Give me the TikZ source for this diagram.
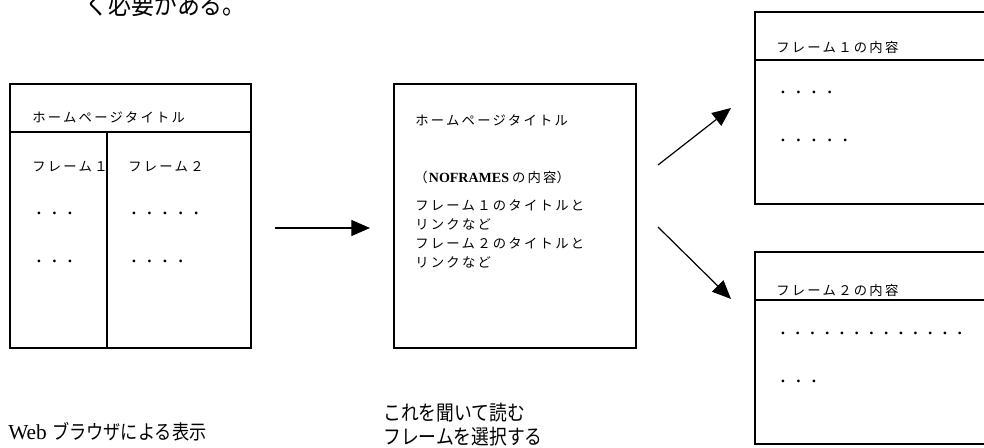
\documentclass[tikz,border=0pt]{standalone}
\usepackage{fontspec}
\setmainfont{Liberation Serif}
\newfontfamily\cjk{Noto Sans CJK JP}
\newfontfamily\cjks[LetterSpace=17]{Noto Sans CJK JP}
\newfontfamily\cjkd[LetterSpace=10.6]{Noto Sans CJK JP}
\newfontfamily\cjkn[FakeStretch=0.86]{Noto Sans CJK JP}
\usetikzlibrary{arrows.meta,fit}
\begin{document}
\begin{tikzpicture}[x=0.75pt,y=-0.75pt,
  box/.style={draw, line width=1pt, inner sep=0pt},
  sepline/.style={line width=1pt},
  lbl/.style={anchor=west, inner sep=0pt, font=\cjks\fontsize{10}{12}\selectfont},
  big/.style={anchor=west, inner sep=0pt, font=\fontsize{16}{18}\selectfont},
  arr/.style={line width=0.9pt, -{Triangle[length=14pt,width=12pt]}}]
\clip (0,0) rectangle (984,448);
% top cut-off text
\node[anchor=west, inner sep=0pt, font=\cjkn\fontsize{20}{22}\selectfont] (top) at (85,4) {く必要がある。};
% box 1
\node[box, fit={(10,84) (251,348)}] (b1) {};
\draw[sepline] (10,132) -- (251,132);
\draw[sepline] (107,132) -- (107,348);
\node[lbl] (b1t) at (32,117) {ホームページタイトル};
\node[lbl] (b1f1) at (32,167) {フレーム１};
\node[lbl] (b1f2) at (128,167) {フレーム２};
\node[lbl] (b1d1) at (32,215) {・・・};
\node[lbl] (b1d2) at (32,263) {・・・};
\node[lbl] (b1d3) at (127,215) {・・・・・};
\node[lbl] (b1d4) at (127,263) {・・・・};
% box 2
\node[box, fit={(394,84) (636,348)}] (b2) {};
\node[lbl] (b2t) at (415,120) {ホームページタイトル};
\node[lbl, font=\cjk\fontsize{10}{12}\selectfont] (b2n) at (414,177) {（\hspace{1pt}{\fontspec{Liberation Serif}\fontsize{10.5}{12}\selectfont\bfseries NOFRAMES} {\cjks の内容}）};
\node[lbl] (b2l1) at (415,205) {フレーム１のタイトルと};
\node[lbl] (b2l2) at (415,224) {リンクなど};
\node[lbl] (b2l3) at (415,243) {フレーム２のタイトルと};
\node[lbl] (b2l4) at (415,262) {リンクなど};
% box 3
\node[box, fit={(755,12) (995,204)}] (b3) {};
\draw[sepline] (755,60) -- (995,60);
\node[lbl] (b3t) at (776,47) {フレーム１の内容};
\node[lbl] (b3d1) at (776,94) {・・・・};
\node[lbl] (b3d2) at (776,142) {・・・・・};
% box 4
\node[box, fit={(755,252) (995,444)}] (b4) {};
\draw[sepline] (755,300) -- (995,300);
\node[lbl] (b4t) at (776,290) {フレーム２の内容};
\node[lbl, font=\cjkd\fontsize{10}{12}\selectfont] (b4d1) at (776,335) {・・・・・・・・・・・・・};
\node[lbl] (b4d2) at (776,383) {・・・};
% arrows
\coordinate (a1s) at (275,228); \coordinate (a1e) at (370,228);
\coordinate (a2s) at (658,165); \coordinate (a2e) at (731,108);
\coordinate (a3s) at (658,227); \coordinate (a3e) at (731,299);
\draw[arr] (a1s) -- (a1e);
\draw[arr] (a2s) -- (a2e);
\draw[arr] (a3s) -- (a3e);
% captions
\node[big] (cap1) at (8,432) {Web {\cjkn\fontsize{15}{18}\selectfont ブラウザによる表示}};
\node[big, font=\cjkn\fontsize{15.5}{18}\selectfont] (cap2a) at (383,413) {これを聞いて読む};
\node[big, font=\cjkn\fontsize{15.5}{18}\selectfont] (cap2b) at (383,437) {フレームを選択する};
\end{tikzpicture}
\end{document}
